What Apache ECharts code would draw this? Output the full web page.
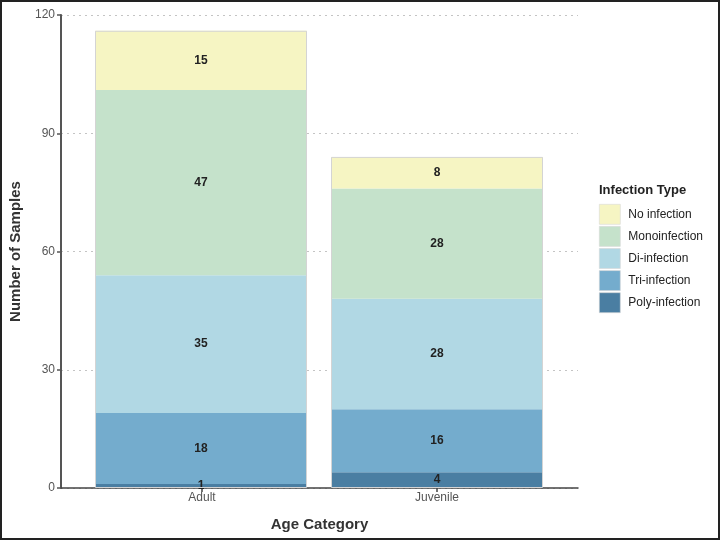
<!DOCTYPE html>
<html>
<head>
<meta charset="utf-8">
<script src="https://cdn.jsdelivr.net/npm/echarts@6/dist/echarts.min.js"></script>
<style>
  html, body { margin: 0; padding: 0; background: #fff; }
  #grafico { width: 720px; height: 540px; }
</style>
</head>
<body>
<div id="grafico"></div>
<script>
// dados
const categorias = ["Adult", "Juvenile"];
const tipos = ["Poly-infection", "Tri-infection", "Di-infection", "Monoinfection", "No infection"];
const poly = [1, 4];
const tri = [18, 16];
const di = [35, 28];
const mono = [47, 28];
const nenhuma = [15, 8];
const yTicks = [0, 30, 60, 90, 120];

const cores = ["#4a7ea2", "#74accd", "#b1d8e4", "#c5e2cb", "#f6f5c3"];
const valores = [poly, tri, di, mono, nenhuma];

let myChart = echarts.init(document.getElementById("grafico"));

// barras no grid 1 (categorias), eixos visiveis no grid 0
let series = tipos.map((nome, i) => ({
    name: nome,
    type: "bar",
    stack: "total",
    xAxisIndex: 1,
    yAxisIndex: 1,
    barWidth: 212,
    data: valores[i],
    itemStyle: {
        color: cores[i],
        borderWidth: 0
    },
    label: {
        show: true,
        position: "inside",
        color: "#222",
        fontWeight: "bold",
        fontSize: 12,
        fontFamily: "Liberation Sans"
    }
}));

// contorno leve em volta de cada barra empilhada
series.push({
    name: "contorno",
    type: "bar",
    xAxisIndex: 1,
    yAxisIndex: 1,
    barWidth: 212,
    barGap: "-100%",
    silent: true,
    data: categorias.map((c, j) => valores.reduce((s, arr) => s + arr[j], 0)),
    itemStyle: { color: "rgba(0,0,0,0)", borderColor: "#d4d4d4", borderWidth: 1 },
    z: 3
});

let option = {
    animation: false,
    textStyle: { fontFamily: "Liberation Sans" },
    grid: [
        { left: 60, right: 142, top: 15, bottom: 52 },
        { left: 83, right: 165, top: 15, bottom: 52 }
    ],
    xAxis: [
        {
            gridIndex: 0,
            type: "value",
            min: 0.4,
            max: 2.6,
            name: "Age Category",
            nameLocation: "middle",
            nameGap: 29,
            nameTextStyle: { fontSize: 15, fontWeight: "bold", color: "#333" },
            axisLine: { show: true, lineStyle: { color: "#444", width: 1.5 } },
            axisTick: { show: true, customValues: [1, 2], length: 4, lineStyle: { color: "#444", width: 1.5 } },
            axisLabel: {
                customValues: [1, 2],
                formatter: v => categorias[Math.round(v) - 1],
                color: "#555",
                fontSize: 12,
                margin: 4
            },
            splitLine: { show: false }
        },
        {
            gridIndex: 1,
            type: "category",
            data: categorias,
            show: false
        }
    ],
    yAxis: [
        {
            gridIndex: 0,
            type: "value",
            min: 0,
            max: 120,
            interval: 30,
            name: "Number of Samples",
            nameLocation: "middle",
            nameGap: 38,
            nameTextStyle: { fontSize: 15, fontWeight: "bold", color: "#333" },
            axisLine: { show: true, lineStyle: { color: "#555", width: 2 } },
            axisTick: { show: true, length: 4, lineStyle: { color: "#555", width: 1.5 } },
            axisLabel: {
                color: "#555",
                fontSize: 12,
                margin: 6,
                formatter: v => yTicks.includes(v) ? v : ""
            },
            splitLine: { show: true, lineStyle: { color: "#c4c4c4", type: [2, 4], width: 1 } }
        },
        {
            gridIndex: 1,
            type: "value",
            min: 0,
            max: 120,
            show: false,
            splitLine: { show: false }
        }
    ],
    legend: {
        orient: "vertical",
        left: 594,
        top: 199,
        itemWidth: 21,
        itemHeight: 20,
        itemGap: 1.5,
        data: tipos.slice().reverse(),
        icon: "rect",
        itemStyle: { borderColor: "#d6d6d6", borderWidth: 0.6 },
        textStyle: { fontSize: 12, color: "#222", padding: [0, 0, 0, 3] }
    },
    graphic: [
        {
            type: "text",
            left: 599,
            top: 184,
            style: { text: "Infection Type", font: "bold 13px 'Liberation Sans'", fill: "#222" }
        },
        {
            type: "rect",
            shape: { x: 1, y: 1, width: 718, height: 538 },
            style: { fill: "none", stroke: "#222", lineWidth: 2 },
            silent: true
        }
    ],
    series: series
};

myChart.setOption(option);
</script>
</body>
</html>
